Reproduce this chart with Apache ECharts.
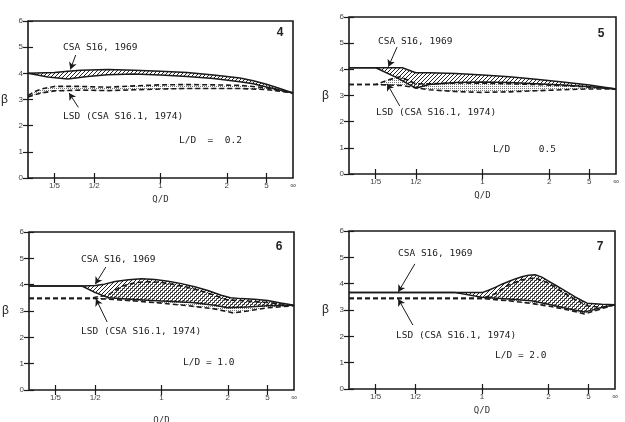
<!DOCTYPE html>
<html>
<head>
<meta charset="utf-8">
<script src="https://cdn.jsdelivr.net/npm/echarts@6/dist/echarts.min.js"></script>
<style>
  html, body { margin: 0; padding: 0; background: #fff; }
  #chart { width: 625px; height: 422px; }
</style>
</head>
<body>
<div id="chart"></div>
<script>
// x axis: position units 0..20 (non-linear Q/D scale of the original figure)
var xTickPos = [2, 5, 10, 15, 18, 20];
var xTickLabels = ['1/5', '1/2', '1', '2', '5', '\u221e'];
var yTicks = [0, 1, 2, 3, 4, 5, 6];

// panel 4, L/D = 0.2
var p4CsaUpper = [[0,4.0],[2,4.03],[3,4.08],[4,4.12],[6,4.15],[8,4.12],[10,4.08],[12,4.03],[14,3.94],[16,3.82],[17,3.72],[18,3.58],[19,3.42],[20,3.25]];
var p4CsaLower = [[0,4.0],[1.5,3.86],[3,3.78],[4.5,3.88],[6,3.95],[8,3.97],[10,3.94],[12,3.88],[14,3.8],[16,3.68],[17,3.6],[18,3.48],[19,3.36],[20,3.25]];
var p4LsdUpper = [[0,3.15],[0.5,3.3],[1,3.4],[2,3.5],[4,3.5],[6,3.47],[8,3.52],[10,3.56],[12,3.57],[14,3.56],[16,3.54],[18,3.45],[20,3.25]];
var p4LsdLower = [[0,3.1],[0.5,3.18],[1,3.25],[2,3.33],[4,3.36],[6,3.34],[8,3.37],[10,3.4],[12,3.42],[14,3.42],[16,3.42],[18,3.38],[20,3.25]];

// panel 5, L/D = 0.5
var p5CsaUpper = [[0,4.06],[2,4.06],[4,4.06],[5,3.87],[6,3.87],[8,3.84],[10,3.78],[12,3.72],[14,3.62],[16,3.52],[18,3.4],[20,3.25]];
var p5CsaLower = [[0,4.06],[2,4.06],[3.5,3.7],[5,3.28],[6,3.42],[8,3.5],[10,3.52],[12,3.5],[14,3.45],[16,3.4],[18,3.33],[20,3.25]];
var p5LsdUpper = [[0,3.42],[2,3.42],[3,3.6],[3.8,3.72],[5,3.45],[6,3.45],[8,3.48],[10,3.47],[12,3.45],[14,3.42],[16,3.38],[18,3.32],[20,3.25]];
var p5LsdLower = [[0,3.42],[2,3.42],[4,3.38],[5,3.3],[6,3.22],[8,3.15],[10,3.12],[12,3.14],[14,3.18],[16,3.22],[18,3.25],[20,3.25]];

// panel 6, L/D = 1.0
var p6CsaUpper = [[0,3.95],[4,3.95],[5,3.97],[5.7,4.02],[6.5,4.12],[7.5,4.19],[8.5,4.22],[9.5,4.2],[10.5,4.13],[11.5,4.04],[12.5,3.92],[13.5,3.78],[14.5,3.6],[15.2,3.5],[16,3.47],[17,3.45],[18,3.4],[19,3.3],[20,3.22]];
var p6CsaLower = [[0,3.95],[4,3.95],[5,3.7],[6,3.5],[8,3.44],[10,3.38],[12.3,3.32],[14,3.22],[15,3.12],[16.5,3.15],[18,3.2],[20,3.22]];
var p6LsdUpper = [[0,3.48],[4.6,3.48],[6,3.62],[7,3.95],[8,4.07],[9,4.12],[10,4.08],[11,4.0],[12,3.9],[13,3.76],[14,3.6],[15,3.42],[16.5,3.38],[18,3.32],[20,3.22]];
var p6LsdLower = [[0,3.48],[4.6,3.48],[6,3.45],[8,3.38],[10,3.3],[12,3.2],[14,3.08],[15.4,2.93],[16.5,3.0],[18,3.12],[20,3.2]];

// panel 7, L/D = 2.0
var p7CsaUpper = [[0,3.66],[10,3.66],[10.5,3.75],[11,3.86],[11.5,3.98],[12,4.08],[12.5,4.18],[13,4.26],[13.5,4.32],[14,4.34],[14.5,4.25],[15,4.1],[15.5,3.95],[16,3.8],[16.5,3.65],[17,3.5],[17.5,3.36],[17.9,3.26],[19,3.22],[20,3.2]];
var p7CsaLower = [[0,3.66],[8,3.66],[10,3.48],[12,3.42],[13.7,3.35],[15,3.22],[16.5,3.05],[17.7,2.92],[19,3.1],[20,3.2]];
var p7LsdUpper = [[0,3.44],[10,3.44],[11,3.62],[12,3.95],[13,4.15],[14,4.22],[15,4.02],[16,3.7],[17,3.4],[18,3.15],[19,3.1],[20,3.2]];
var p7LsdLower = [[0,3.44],[10,3.44],[12,3.35],[13.7,3.25],[15,3.15],[16.5,3.0],[17.7,2.85],[19,3.05],[20,3.2]];

var panelNames = ['4', '5', '6', '7'];
var ldLabels = ['0.2', '0.5', '1.0', '2.0'];

var INK = '#1a1a1a';
var MONO = '"DejaVu Sans Mono", monospace';
var SANS = '"Liberation Sans", Arial, sans-serif';

function makeHatch() {
    var c = document.createElement('canvas');
    c.width = 4; c.height = 4;
    var g = c.getContext('2d');
    g.strokeStyle = '#222';
    g.lineWidth = 1;
    g.beginPath();
    g.moveTo(0, 4); g.lineTo(4, 0);
    g.moveTo(-1, 1); g.lineTo(1, -1);
    g.moveTo(3, 5); g.lineTo(5, 3);
    g.stroke();
    return c;
}
function makeDots() {
    var c = document.createElement('canvas');
    c.width = 2; c.height = 2;
    var g = c.getContext('2d');
    g.fillStyle = '#777';
    g.fillRect(0, 0, 1, 1);
    return c;
}
var hatch = { image: makeHatch(), repeat: 'repeat' };
var dots = { image: makeDots(), repeat: 'repeat' };

var grids = [
    { left: 28, top: 21, width: 265, height: 157 },
    { left: 349, top: 17, width: 267, height: 157 },
    { left: 29, top: 232, width: 265, height: 158 },
    { left: 349, top: 231, width: 266, height: 158 }
];
var nameGaps = [17, 17, 26, 17];

var xAxes = [], yAxes = [];
grids.forEach(function (gr, i) {
    gr.show = true;
    gr.borderColor = INK;
    gr.borderWidth = 1.6;
    gr.containLabel = false;
    gr.outerBoundsMode = 'none';
    xAxes.push({
        type: 'value', gridIndex: i, min: 0, max: 20, position: 'bottom',
        name: 'Q/D', nameLocation: 'middle', nameGap: nameGaps[i],
        nameTextStyle: { fontFamily: MONO, fontSize: 9, color: '#333' },
        axisLine: { show: false }, splitLine: { show: false },
        axisTick: { inside: true, length: 5, customValues: xTickPos.slice(0, 5), lineStyle: { color: INK, width: 1.2 } },
        axisLabel: {
            customValues: xTickPos, margin: 4, fontFamily: SANS, fontSize: 8, color: '#444',
            formatter: function (v) { return xTickLabels[xTickPos.indexOf(v)] || ''; }
        }
    });
    xAxes.push({
        type: 'value', gridIndex: i, min: 0, max: 20, position: 'top',
        axisLine: { show: false }, splitLine: { show: false }, axisLabel: { show: false },
        axisTick: { inside: true, length: 5, customValues: xTickPos.slice(0, 5), lineStyle: { color: INK, width: 1.2 } }
    });
    yAxes.push({
        type: 'value', gridIndex: i, min: 0, max: 6, interval: 1, position: 'left',
        name: '\u03b2', nameLocation: 'middle', nameGap: 20, nameRotate: 0,
        nameTextStyle: { fontFamily: SANS, fontSize: 12, color: '#222' },
        axisLine: { show: false }, splitLine: { show: false },
        axisTick: { inside: true, length: 5, lineStyle: { color: INK, width: 1.2 } },
        axisLabel: { margin: 5, fontFamily: SANS, fontSize: 8, color: '#444' }
    });
    yAxes.push({
        type: 'value', gridIndex: i, min: 0, max: 6, interval: 1, position: 'right',
        axisLine: { show: false }, splitLine: { show: false }, axisLabel: { show: false },
        axisTick: { inside: true, length: 5, lineStyle: { color: INK, width: 1.2 } }
    });
});

function bandSeries(panel, upper, lower, fill) {
    return {
        type: 'custom', xAxisIndex: 2 * panel, yAxisIndex: 2 * panel, silent: true,
        data: [[0, 0]],
        renderItem: function (params, api) {
            var pts = upper.map(function (p) { return api.coord(p); })
                .concat(lower.slice().reverse().map(function (p) { return api.coord(p); }));
            return { type: 'polygon', shape: { points: pts }, style: { fill: fill, stroke: null } };
        }
    };
}
function lineSeries(panel, data, dashed) {
    return {
        type: 'line', xAxisIndex: 2 * panel, yAxisIndex: 2 * panel, data: data,
        showSymbol: false, silent: true,
        lineStyle: { color: INK, width: dashed ? 1.6 : 1.5, type: dashed ? [5, 3] : 'solid' }
    };
}
function arrowSeries(panel, arrows) {
    return {
        type: 'line', xAxisIndex: 2 * panel, yAxisIndex: 2 * panel, data: [], silent: true,
        markLine: {
            silent: true, symbol: ['none', 'arrow'], symbolSize: [6, 7], label: { show: false },
            lineStyle: { color: INK, width: 1, type: 'solid' },
            data: arrows.map(function (a) { return [{ coord: a[0] }, { coord: a[1] }]; })
        }
    };
}

var panels = [
    [p4CsaUpper, p4CsaLower, p4LsdUpper, p4LsdLower],
    [p5CsaUpper, p5CsaLower, p5LsdUpper, p5LsdLower],
    [p6CsaUpper, p6CsaLower, p6LsdUpper, p6LsdLower],
    [p7CsaUpper, p7CsaLower, p7LsdUpper, p7LsdLower]
];
// annotation arrows, in data units: [from, to]
var arrowData = [
    [[[3.6, 4.7], [3.2, 4.15]], [[3.8, 2.7], [3.1, 3.25]]],
    [[[3.6, 4.85], [2.95, 4.1]], [[3.8, 2.6], [2.85, 3.45]]],
    [[[5.8, 4.67], [5.0, 4.02]], [[5.9, 2.58], [5.05, 3.46]]],
    [[[4.95, 4.75], [3.7, 3.68]], [[4.8, 2.43], [3.7, 3.42]]]
];

var series = [];
panels.forEach(function (p, i) {
    series.push(bandSeries(i, p[2], p[3], dots));
    series.push(bandSeries(i, p[0], p[1], hatch));
    series.push(lineSeries(i, p[2], true));
    series.push(lineSeries(i, p[3], true));
    series.push(lineSeries(i, p[0], false));
    series.push(lineSeries(i, p[1], false));
    series.push(arrowSeries(i, arrowData[i]));
});

function txt(x, y, text, font, align) {
    return { type: 'text', silent: true, style: { x: x, y: y, text: text, font: font, fill: '#222', textAlign: align || 'left', textVerticalAlign: 'middle' } };
}
var annoFont = '9.5px ' + MONO;
var numFont = 'bold 12px ' + SANS;
var graphics = [
    txt(63, 48, 'CSA S16, 1969', annoFont), txt(63, 117, 'LSD (CSA S16.1, 1974)', annoFont),
    txt(179, 141, 'L/D  =  ' + ldLabels[0], annoFont), txt(280, 33, panelNames[0], numFont, 'center'),

    txt(378, 42, 'CSA S16, 1969', annoFont), txt(376, 113, 'LSD (CSA S16.1, 1974)', annoFont),
    txt(493, 150, 'L/D     ' + ldLabels[1], annoFont), txt(601, 34, panelNames[1], numFont, 'center'),

    txt(81, 260, 'CSA S16, 1969', annoFont), txt(81, 332, 'LSD (CSA S16.1, 1974)', annoFont),
    txt(183, 363, 'L/D = ' + ldLabels[2], annoFont), txt(279, 247, panelNames[2], numFont, 'center'),

    txt(398, 254, 'CSA S16, 1969', annoFont), txt(396, 336, 'LSD (CSA S16.1, 1974)', annoFont),
    txt(495, 356, 'L/D = ' + ldLabels[3], annoFont), txt(600, 247, panelNames[3], numFont, 'center')
];

var myChart = echarts.init(document.getElementById('chart'), null, { renderer: 'canvas' });
myChart.setOption({
    animation: false,
    backgroundColor: '#fff',
    grid: grids,
    xAxis: xAxes,
    yAxis: yAxes,
    series: series,
    graphic: graphics
});
</script>
</body>
</html>
